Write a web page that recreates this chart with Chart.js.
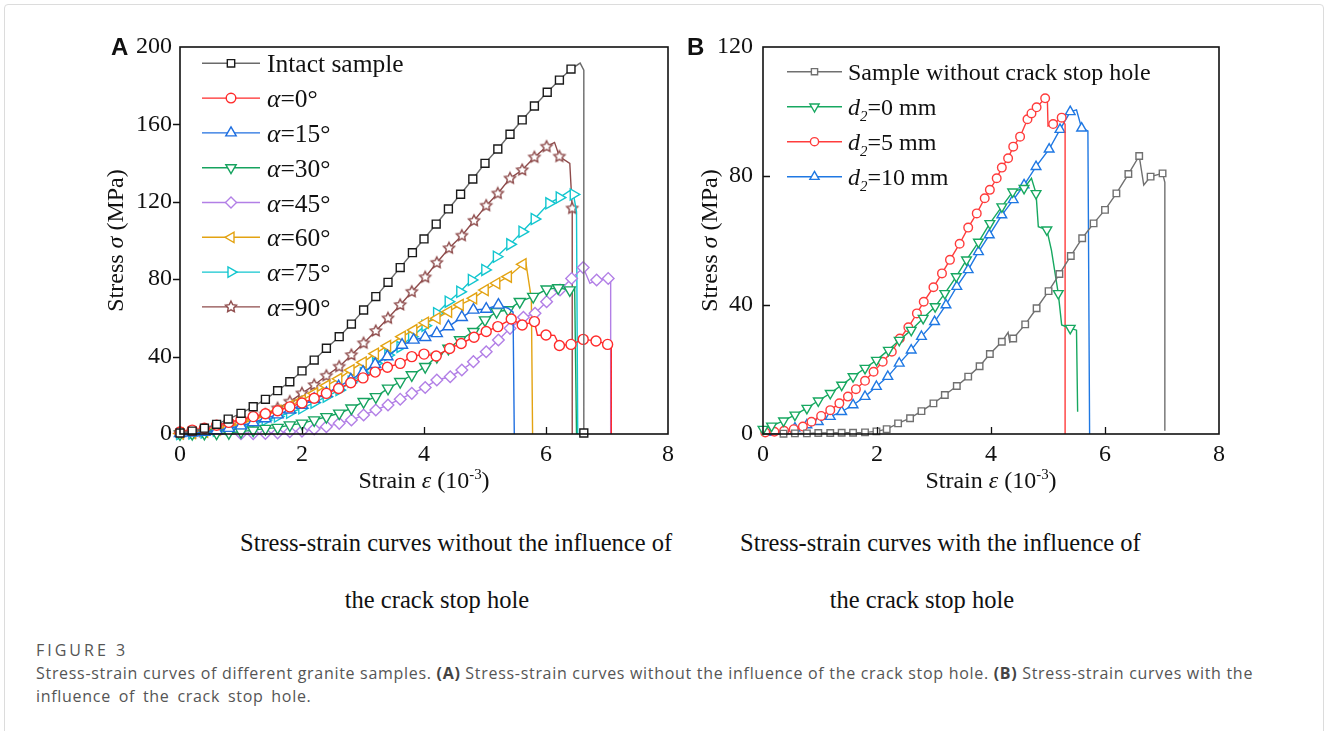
<!DOCTYPE html>
<html>
<head>
<meta charset="utf-8">
<script src="https://cdn.jsdelivr.net/npm/chart.js@4.4.0/dist/chart.umd.min.js"></script>
<style>
  body { margin: 0; background: #fff; width: 1328px; height: 731px; position: relative; overflow: hidden; }
  .frame { position: absolute; left: 4px; top: 4px; width: 1318px; height: 740px; border: 1px solid #dcdcdc; border-radius: 4px; }
  .box { position: absolute; }
  #boxA { left: 90px; top: 20px; }
  #boxB { left: 680px; top: 20px; }
  .sub { position: absolute; font: 24.5px "Liberation Serif", serif; color: #111; white-space: nowrap; line-height: 28px; }
  .fig { position: absolute; left: 36px; font-family: "Open Sans", sans-serif; color: #555; white-space: nowrap; }
  .fig b { font-weight: 700; color: #444; }
</style>
</head>
<body>
<div class="frame"></div>
<div class="box" id="boxA"><canvas id="chartA" width="600" height="490"></canvas></div>
<div class="box" id="boxB"><canvas id="chartB" width="560" height="490"></canvas></div>

<div class="sub" style="left:240px; top:529px;">Stress-strain curves without the influence of</div>
<div class="sub" style="left:437px; top:586px; transform:translateX(-50%);">the crack stop hole</div>
<div class="sub" style="left:740px; top:529px;">Stress-strain curves with the influence of</div>
<div class="sub" style="left:922px; top:586px; transform:translateX(-50%);">the crack stop hole</div>

<div class="fig" style="top:639px; font-size:16px; letter-spacing:3px;">FIGURE 3</div>
<div class="fig" style="top:662px; font-size:16px; line-height:23px; letter-spacing:0.7px;">Stress-strain curves of different granite samples. <b>(A)</b> Stress-strain curves without the influence of the crack stop hole. <b>(B)</b> Stress-strain curves with the</div>
<div class="fig" style="top:685px; font-size:16px; line-height:23px; letter-spacing:0.7px; word-spacing:3px;">influence of the crack stop hole.</div>

<script>
// ─── Panel A: samples without crack stop hole (strain 10^-3, stress MPa) ───
const intactX = [0, 0.2, 0.4, 0.6, 0.79, 1.0, 1.2, 1.4, 1.6, 1.8, 2.0, 2.2, 2.4, 2.61, 2.81, 3.01, 3.21, 3.41, 3.61, 3.81, 4.0, 4.2, 4.4, 4.6, 4.8, 5.0, 5.21, 5.41, 5.61, 5.81, 6.02, 6.22, 6.41, 6.56, 6.62, 6.62];
const intactY = [0.5, 1.5, 3, 5, 7.7, 10.7, 14.1, 17.9, 22.4, 27, 32.6, 38.2, 44.3, 50.3, 56.8, 64.1, 71, 78.4, 86, 93.7, 100.8, 108.5, 116.3, 123.9, 131.8, 139.9, 147.3, 154.9, 162.3, 169.5, 176.6, 182.9, 188.6, 191.7, 188, 0.5];
const intactBare = [33, 34];

const a0X = [0, 0.2, 0.4, 0.6, 0.8, 1.0, 1.2, 1.4, 1.6, 1.8, 2.0, 2.2, 2.4, 2.6, 2.8, 3.0, 3.2, 3.4, 3.61, 3.8, 4.0, 4.2, 4.42, 4.61, 4.82, 5.02, 5.21, 5.43, 5.61, 5.81, 5.86, 6.0, 6.14, 6.22, 6.41, 6.61, 6.82, 7.01, 7.07, 7.07];
const a0Y = [1, 2, 3, 4.5, 6, 7.5, 9, 10.5, 12, 14, 16, 18.5, 21, 23.5, 26.5, 29, 32, 34.5, 36.5, 40, 41.3, 40.3, 44.2, 46.8, 50, 53, 55.5, 59.4, 56.3, 58.1, 51, 51.2, 51, 45.7, 46.3, 48.9, 48.1, 46.3, 45, 0];
const a0Bare = [30, 32, 38, 39];

const a15X = [0, 0.2, 0.4, 0.6, 0.8, 1.0, 1.2, 1.4, 1.6, 1.8, 2.0, 2.2, 2.4, 2.6, 2.8, 3.0, 3.2, 3.4, 3.64, 3.83, 4.02, 4.21, 4.4, 4.62, 4.81, 5.02, 5.22, 5.38, 5.46, 5.48];
const a15Y = [0.3, 0.6, 1, 1.8, 3, 4.3, 6, 8, 10, 12.5, 15, 18, 21, 24.5, 28, 32, 36, 40, 46, 48.6, 50, 52, 55.5, 60.3, 64.1, 64.6, 66.7, 65, 63, 0];
const a15Bare = [27, 28, 29];

const a30X = [0, 0.2, 0.4, 0.6, 0.8, 1.0, 1.2, 1.4, 1.6, 1.8, 2.0, 2.2, 2.4, 2.61, 2.81, 3.01, 3.21, 3.41, 3.61, 3.8, 4.02, 4.21, 4.4, 4.59, 4.81, 5.0, 5.19, 5.38, 5.57, 5.79, 6.01, 6.2, 6.39, 6.47, 6.5];
const a30Y = [0, 0.2, 0.3, 0.4, 0.6, 1.2, 2, 2.8, 3.3, 4.6, 5.5, 7.2, 8.9, 10.7, 13.3, 16.7, 19.2, 23.6, 27, 30.5, 34.8, 40, 44.2, 48.6, 52.9, 58.9, 63.2, 64.1, 68.4, 71, 74.8, 75.5, 74.4, 75, 0];
const a30Bare = [33, 34];

const a45X = [0, 1.0, 1.2, 1.4, 1.6, 1.8, 2.0, 2.2, 2.4, 2.61, 2.81, 3.01, 3.21, 3.41, 3.61, 3.8, 4.02, 4.21, 4.43, 4.62, 4.81, 5.02, 5.22, 5.41, 5.63, 5.82, 6.01, 6.23, 6.42, 6.61, 6.72, 6.83, 7.02, 7.06, 7.06];
const a45Y = [0, 0.1, 0.2, 0.3, 0.6, 1.2, 1.5, 2.6, 3.8, 5.5, 7.2, 9.8, 12.4, 15, 18, 21, 24, 27.9, 29.6, 33.1, 37.4, 42.5, 48.6, 54.6, 60.3, 62.4, 68.4, 74.4, 80.4, 86, 77.9, 79.6, 80.4, 79, 0];
const a45Bare = [0, 30, 33, 34];

const a60X = [0, 0.2, 0.4, 0.6, 0.8, 1.0, 1.2, 1.4, 1.6, 1.8, 2.0, 2.2, 2.4, 2.6, 2.8, 3.0, 3.2, 3.4, 3.64, 3.83, 4.02, 4.21, 4.4, 4.59, 4.81, 5.0, 5.19, 5.38, 5.62, 5.67, 5.76, 5.78];
const a60Y = [0.2, 0.5, 1.2, 2.2, 3.6, 5.3, 7.3, 9.5, 12, 14.5, 17.5, 21, 25, 28.5, 33, 37, 41.5, 45.5, 50.3, 53.7, 57.5, 59.8, 63.2, 66.7, 70.1, 74.4, 77.9, 81.3, 87.7, 88.5, 70, 0];
const a60Bare = [29, 30, 31];

const a75X = [0, 0.2, 0.4, 0.6, 0.8, 1.0, 1.2, 1.4, 1.6, 1.8, 2.0, 2.2, 2.4, 2.61, 2.81, 3.01, 3.21, 3.41, 3.61, 3.8, 4.02, 4.21, 4.4, 4.59, 4.78, 5.0, 5.19, 5.41, 5.61, 5.81, 6.05, 6.22, 6.39, 6.45, 6.5, 6.52];
const a75Y = [0, 0.3, 0.8, 1.7, 2.6, 3.8, 5.9, 7.2, 9, 11, 13.3, 16.2, 19.3, 22.7, 27, 31.4, 36.5, 40.8, 45, 50.3, 56, 62.4, 68.4, 73.5, 79.6, 84.8, 91.6, 98, 104.5, 111.1, 119.2, 122.2, 125.7, 123.8, 115, 0];
const a75Bare = [32, 34, 35];

const a90X = [0, 0.2, 0.38, 0.6, 0.79, 1.0, 1.2, 1.4, 1.6, 1.8, 2.0, 2.2, 2.4, 2.61, 2.81, 3.01, 3.21, 3.41, 3.61, 3.8, 4.02, 4.21, 4.41, 4.62, 4.82, 5.02, 5.21, 5.41, 5.61, 5.81, 6.01, 6.14, 6.22, 6.39, 6.43, 6.43];
const a90Y = [0.3, 0.6, 1.2, 2.1, 3.8, 5.5, 7.7, 10.1, 13.3, 16.7, 21, 25.3, 30.1, 34.8, 40.8, 46.9, 53.2, 59.8, 66.7, 73.5, 81, 88.5, 96, 102.5, 110.2, 118, 124.3, 132.1, 136.4, 143, 148.5, 150.7, 143.4, 139.9, 116.6, 0];
const a90Bare = [31, 33, 35];

// ─── Panel B: with crack stop hole ───
const noHoleX = [0, 0.36, 0.56, 0.77, 0.97, 1.18, 1.38, 1.58, 1.79, 1.99, 2.17, 2.37, 2.58, 2.78, 2.99, 3.19, 3.4, 3.6, 3.8, 3.98, 4.19, 4.3, 4.33, 4.39, 4.6, 4.8, 5.01, 5.2, 5.4, 5.6, 5.8, 6.0, 6.2, 6.41, 6.6, 6.68, 6.8, 7.01, 7.05, 7.05];
const noHoleY = [0, 0.1, 0.2, 0.2, 0.3, 0.3, 0.4, 0.4, 0.5, 0.8, 1.5, 3.3, 4.9, 7.1, 9.5, 12.1, 14.9, 17.8, 21, 24.8, 28.6, 31.5, 28.5, 29.6, 34, 39, 44.3, 49.6, 55.2, 60.7, 65.3, 69.5, 74.6, 80.6, 86.2, 77.2, 79.8, 80.8, 78, 1];
const noHoleBare = [0, 21, 22, 35, 38, 39];

const d0X = [0, 0.15, 0.36, 0.56, 0.77, 0.97, 1.18, 1.38, 1.58, 1.79, 1.99, 2.2, 2.39, 2.6, 2.81, 3.02, 3.19, 3.39, 3.57, 3.78, 3.98, 4.19, 4.38, 4.58, 4.71, 4.79, 4.83, 4.98, 5.06, 5.18, 5.24, 5.39, 5.5, 5.52];
const d0Y = [1.5, 2.5, 4.1, 5.9, 8, 10.3, 12.6, 15.2, 17.8, 20.4, 22.9, 26, 29.1, 32.2, 35.9, 39.5, 43.6, 48.8, 54, 59.5, 65.3, 70.5, 75.1, 76.2, 79.3, 74.6, 64.3, 63.3, 57, 43.6, 33.8, 32.8, 32.2, 6.9];
const d0Bare = [24, 26, 28, 30, 32, 33];

const d5X = [0.04, 0.2, 0.37, 0.54, 0.7, 0.85, 1.02, 1.18, 1.34, 1.49, 1.63, 1.79, 1.94, 2.1, 2.26, 2.4, 2.55, 2.7, 2.82, 2.99, 3.14, 3.28, 3.45, 3.6, 3.75, 3.89, 3.98, 4.1, 4.19, 4.3, 4.39, 4.51, 4.64, 4.71, 4.8, 4.95, 4.99, 5.0, 5.09, 5.24, 5.3, 5.3];
const d5Y = [0.5, 0.7, 1, 1.5, 2.3, 3.8, 5.6, 7.4, 9.5, 11.6, 13.9, 16.5, 19.3, 22.4, 25.5, 29.6, 33.1, 37.4, 41, 45.5, 49.8, 54, 59, 64, 68.4, 73.1, 75.7, 79.3, 82.6, 85.5, 89.1, 92.2, 97.6, 99.4, 101.3, 104.1, 103, 95.5, 96.1, 98.1, 96, 0];
const d5Bare = [36, 37, 40, 41];

const d10X = [0, 0.13, 0.36, 0.56, 0.77, 0.97, 1.18, 1.38, 1.58, 1.79, 1.99, 2.19, 2.39, 2.6, 2.78, 3.01, 3.21, 3.4, 3.6, 3.78, 3.97, 4.19, 4.39, 4.58, 4.79, 5.02, 5.21, 5.39, 5.5, 5.59, 5.7, 5.73];
const d10Y = [0, 0.5, 1, 1.8, 2.8, 3.8, 5.4, 6.9, 9, 11.6, 14.7, 17.8, 21.9, 26, 30.2, 34.8, 40, 45.7, 50.9, 56.5, 61.7, 67.9, 72.6, 77.2, 82.9, 88.3, 94.4, 99.9, 100.5, 94.8, 94, 0];
const d10Bare = [0, 28, 30, 31];

const strainTicks = [0, 2, 4, 6, 8];
const stressTicksA = [0, 40, 80, 120, 160, 200];
const stressTicksB = [0, 40, 80, 120];

// ─── helpers ───
const SERIF = '"Liberation Serif", "Times New Roman", serif';

function starImage(r, color) {
    const s = Math.ceil(2 * r + 4);
    const c = document.createElement('canvas');
    c.width = c.height = s;
    const g = c.getContext('2d');
    g.beginPath();
    for (let i = 0; i < 10; i++) {
        const rr = i % 2 ? r * 0.5 : r;
        const ang = -Math.PI / 2 + i * Math.PI / 5;
        g.lineTo(s / 2 + rr * Math.cos(ang), s / 2 + rr * Math.sin(ang));
    }
    g.closePath();
    g.fillStyle = '#fff'; g.fill();
    g.strokeStyle = color; g.lineWidth = 1.4; g.stroke();
    return c;
}

function series(label, xs, ys, bare, color, marker) {
    return {
        label,
        legend: marker.legend,
        data: xs.map((x, i) => ({ x, y: ys[i] })),
        showLine: true,
        borderColor: color,
        borderWidth: 1.4,
        tension: 0,
        clip: false,
        pointStyle: marker.style,
        pointRotation: marker.rot || 0,
        pointRadius: ctx => bare.includes(ctx.dataIndex) ? 0 : marker.r,
        pointHoverRadius: 0,
        pointBorderColor: marker.edge || color,
        pointBackgroundColor: '#fff',
        pointBorderWidth: 1.4,
    };
}

function fontOf(p, size) {
    const s = (p.sup || p.sub) ? size * 0.62 : size;
    return `${p.it ? 'italic ' : ''}${s}px ${SERIF}`;
}

function drawRich(ctx, parts, x, y, size, align) {
    let w = 0;
    parts.forEach(p => { ctx.font = fontOf(p, size); w += ctx.measureText(p.t).width; });
    let cx = align === 'center' ? x - w / 2 : x;
    parts.forEach(p => {
        ctx.font = fontOf(p, size);
        const dy = p.sup ? -size * 0.38 : p.sub ? size * 0.22 : 0;
        ctx.fillText(p.t, cx, y + dy);
        cx += ctx.measureText(p.t).width;
    });
}

function drawMarker(ctx, ds, x, y) {
    const r = ds.legend.r;
    const st = ds.pointStyle;
    if (st instanceof HTMLCanvasElement) { ctx.drawImage(st, x - st.width / 2, y - st.height / 2); return; }
    let rad = (ds.pointRotation || 0) * Math.PI / 180;
    ctx.beginPath();
    if (st === 'circle') ctx.arc(x, y, r, 0, Math.PI * 2);
    else if (st === 'rect') { const h = Math.SQRT1_2 * r; ctx.rect(x - h, y - h, 2 * h, 2 * h); }
    else if (st === 'rectRot') { ctx.moveTo(x, y - r); ctx.lineTo(x + r, y); ctx.lineTo(x, y + r); ctx.lineTo(x - r, y); ctx.closePath(); }
    else if (st === 'triangle') {
        for (let k = 0; k < 3; k++) { ctx.lineTo(x + Math.sin(rad) * r, y - Math.cos(rad) * r); rad += 2 * Math.PI / 3; }
        ctx.closePath();
    }
    ctx.fillStyle = '#fff'; ctx.fill();
    ctx.strokeStyle = ds.pointBorderColor; ctx.lineWidth = 1.4; ctx.stroke();
}

// frame, inward/outward ticks, axis titles, legend, panel letter
function decor(cfg) {
    return {
        id: 'decor',
        afterDatasetsDraw(chart) {
            const { ctx, chartArea: a, scales: { x, y } } = chart;
            ctx.save();
            ctx.strokeStyle = '#111';
            ctx.lineWidth = 1.6;
            ctx.strokeRect(a.left, a.top, a.right - a.left, a.bottom - a.top);
            ctx.lineWidth = 1.3;
            ctx.beginPath();
            strainTicks.slice(1, -1).forEach(v => {
                const px = Math.round(x.getPixelForValue(v)) + 0.5;
                ctx.moveTo(px, a.bottom); ctx.lineTo(px, a.bottom - 7);
            });
            cfg.yTicks.slice(1, -1).forEach(v => {
                const py = Math.round(y.getPixelForValue(v)) + 0.5;
                ctx.moveTo(a.left, py); ctx.lineTo(a.left + cfg.yTickDir * 7, py);
            });
            ctx.stroke();

            ctx.fillStyle = '#111';
            ctx.textBaseline = 'alphabetic';
            drawRich(ctx, [{ t: 'Strain ' }, { t: 'ε', it: 1 }, { t: ' (10' }, { t: '-3', sup: 1 }, { t: ')' }],
                (a.left + a.right) / 2, a.bottom + 54, 24, 'center');
            ctx.save();
            ctx.translate(cfg.yTitleX, (a.top + a.bottom) / 2);
            ctx.rotate(-Math.PI / 2);
            drawRich(ctx, [{ t: 'Stress ' }, { t: 'σ', it: 1 }, { t: ' (MPa)' }], 0, 0, 24, 'center');
            ctx.restore();
            ctx.font = `bold 24px "Liberation Sans", Arial, sans-serif`;
            ctx.fillText(cfg.letter, cfg.letterX, 35);

            chart.data.datasets.forEach((ds, i) => {
                const ly = cfg.leg.y0 + i * cfg.leg.dy;
                ctx.strokeStyle = ds.borderColor;
                ctx.lineWidth = 1.4;
                ctx.beginPath();
                ctx.moveTo(cfg.leg.x0, ly); ctx.lineTo(cfg.leg.x1, ly);
                ctx.stroke();
                drawMarker(ctx, ds, (cfg.leg.x0 + cfg.leg.x1) / 2, ly);
                ctx.fillStyle = '#111';
                drawRich(ctx, ds.legend.parts, cfg.leg.tx, ly + cfg.leg.size * 0.36, cfg.leg.size, 'left');
            });
            ctx.restore();
        }
    };
}

function options(yMax, yAxisW, padRight, yPad) {
    return {
        responsive: false,
        animation: false,
        events: [],
        layout: { padding: { left: 0, right: padRight, top: 27, bottom: 0 } },
        plugins: { legend: { display: false }, tooltip: { enabled: false } },
        scales: {
            x: {
                type: 'linear', min: 0, max: 8,
                grid: { display: false, drawTicks: false },
                border: { display: false },
                afterBuildTicks: s => { s.ticks = strainTicks.map(v => ({ value: v })); },
                afterFit: s => { s.height = 76; },
                ticks: { padding: 6, color: '#111', font: { family: SERIF, size: 24 } }
            },
            y: {
                type: 'linear', min: 0, max: yMax,
                grid: { display: false, drawTicks: false },
                border: { display: false },
                afterBuildTicks: s => { s.ticks = (yMax === 200 ? stressTicksA : stressTicksB).map(v => ({ value: v })); },
                afterFit: s => { s.width = yAxisW; },
                ticks: { padding: yPad, color: '#111', font: { family: SERIF, size: 24 } }
            }
        }
    };
}

const aLbl = t => [{ t: 'α', it: 1 }, { t: '=' + t + '°' }];
const dLbl = t => [{ t: 'd', it: 1 }, { t: '2', sub: 1, it: 1 }, { t: '=' + t + ' mm' }];

const brown = '#8e4b4b';
const datasetsA = [
    series('Intact sample', intactX, intactY, intactBare, '#6a6a6a', { style: 'rect', r: 5.6, edge: '#1a1a1a', legend: { r: 5.2, parts: [{ t: 'Intact sample' }] } }),
    series('α=0°', a0X, a0Y, a0Bare, '#ff2a2a', { style: 'circle', r: 5, legend: { r: 4.8, parts: aLbl(0) } }),
    series('α=15°', a15X, a15Y, a15Bare, '#1f6fe0', { style: 'triangle', r: 6.4, legend: { r: 6, parts: aLbl(15) } }),
    series('α=30°', a30X, a30Y, a30Bare, '#16a35f', { style: 'triangle', rot: 180, r: 6.4, legend: { r: 6, parts: aLbl(30) } }),
    series('α=45°', a45X, a45Y, a45Bare, '#b27fe6', { style: 'rectRot', r: 5.8, legend: { r: 5.5, parts: aLbl(45) } }),
    series('α=60°', a60X, a60Y, a60Bare, '#e3a312', { style: 'triangle', rot: 270, r: 6.4, legend: { r: 6, parts: aLbl(60) } }),
    series('α=75°', a75X, a75Y, a75Bare, '#12c6cf', { style: 'triangle', rot: 90, r: 6.4, legend: { r: 6, parts: aLbl(75) } }),
    series('α=90°', a90X, a90Y, a90Bare, brown, { style: starImage(5.8, brown), r: 5.8, legend: { r: 5.8, parts: aLbl(90) } })
];

const datasetsB = [
    series('Sample without crack stop hole', noHoleX, noHoleY, noHoleBare, '#707070', { style: 'rect', r: 4.6, legend: { r: 4.4, parts: [{ t: 'Sample without crack stop hole' }] } }),
    series('d2=0 mm', d0X, d0Y, d0Bare, '#17a860', { style: 'triangle', rot: 180, r: 5.6, legend: { r: 5.3, parts: dLbl(0) } }),
    series('d2=5 mm', d5X, d5Y, d5Bare, '#ff3c3c', { style: 'circle', r: 4.3, legend: { r: 4.1, parts: dLbl(5) } }),
    series('d2=10 mm', d10X, d10Y, d10Bare, '#1f78e3', { style: 'triangle', r: 5.6, legend: { r: 5.3, parts: dLbl(10) } })
];

new Chart(document.getElementById('chartA'), {
    type: 'scatter',
    data: { datasets: datasetsA },
    options: options(200, 90, 22, 8),
    plugins: [decor({
        yTicks: stressTicksA, yTickDir: -1, yTitleX: 33, letter: 'A', letterX: 21,
        leg: { x0: 112, x1: 170, tx: 177, y0: 43.3, dy: 34.8, size: 25.5 }
    })]
});

new Chart(document.getElementById('chartB'), {
    type: 'scatter',
    data: { datasets: datasetsB },
    options: options(120, 83, 21, 10),
    plugins: [decor({
        yTicks: stressTicksB, yTickDir: 1, yTitleX: 37, letter: 'B', letterX: 7,
        leg: { x0: 107, x1: 162, tx: 168, y0: 51.7, dy: 35, size: 24 }
    })]
});
</script>
</body>
</html>
